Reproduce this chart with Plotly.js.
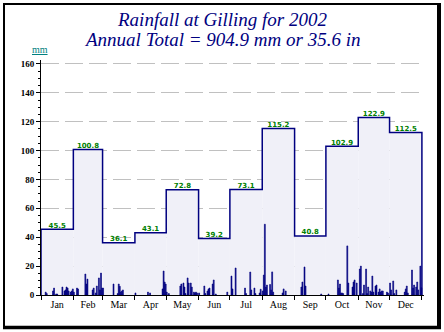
<!DOCTYPE html>
<html>
<head>
<meta charset="utf-8">
<script src="https://cdn.plot.ly/plotly-3.0.1.min.js"></script>
<style>
html,body{margin:0;padding:0;background:#fff;}
#chart{width:444px;height:332px;}
</style>
</head>
<body>
<div id="chart"></div>
<script>
// ---- data ----
const months = ["Jan","Feb","Mar","Apr","May","Jun","Jul","Aug","Sep","Oct","Nov","Dec"];
const monthDays = [31,28,31,30,31,30,31,31,30,31,30,31];
const monthTotals = [45.5,100.8,36.1,43.1,72.8,39.2,73.1,115.2,40.8,102.9,122.9,112.5];
// daily rainfall (day of year, mm)
const rainDay = [5,6,12,13,15,16,21,23,24,25,26,27,29,30,31,
  32,35,36,43,44,45,50,51,53,54,56,57,58,59,
  60,70,74,75,76,77,78,79,
  91,103,105,117,118,119,120,
  121,123,134,135,137,138,139,141,142,144,145,147,148,149,150,
  152,157,158,160,161,162,165,166,168,179,
  183,184,187,196,197,201,202,205,206,210,211,
  213,214,215,216,217,220,221,222,223,232,233,235,
  250,251,253,254,269,
  276,285,286,287,288,289,290,294,295,299,300,301,303,
  306,307,309,310,312,313,314,316,317,318,319,321,322,324,325,326,327,328,332,333,
  335,336,338,339,341,349,350,351,352,356,357,358,360,361,362,364,365];
const rainMm = [2,1,2.8,4.8,0.7,0.7,5.5,2.8,3.5,5.5,4.8,2.8,2,2.8,4.2,
  2,4.8,4.2,14.5,7.6,11,3.5,4.8,1.4,6.2,11.8,3.5,15.2,4.8,
  4.8,7.6,1,7.6,6,2,2.8,3.5,
  1.4,2,1.4,4.2,16.6,9,7.6,
  2,1,6.2,7.6,8.3,5.5,1,11.8,8.3,8.3,5.5,2,1.4,2,1.4,
  1.4,6.2,1,2.8,4.2,4.8,7.6,10.4,0.7,2,
  13.1,4.2,18.7,4.8,1,15.9,3.5,4.8,1,1.4,4,
  2.8,13.8,49,5.5,6.9,7.3,3.5,16,2,1.4,4.2,2.8,
  5.5,9,19.4,6.2,0.7,
  0.7,10.4,4.8,7.6,1.4,1.4,1,34,8.3,5.5,9,10.4,8.3,
  18,20,1,6.9,18,1,5.5,2.8,2,13.1,2,6.2,6.9,2,4.2,2,2.8,2.8,2,1.4,
  8.3,3.5,9.7,1,3.5,2,4.2,6.2,1.4,17.3,4.8,6.9,5.5,9,3.5,20,5];

// ---- derived from data ----
const bounds = [0];
monthDays.forEach(d => bounds.push(bounds[bounds.length-1] + d));
const mids = months.map((m,i) => (bounds[i] + bounds[i+1]) / 2);
const stepX = [0].concat(bounds.slice(0,12), [bounds[12], bounds[12]]);
const stepY = [0].concat(monthTotals, [monthTotals[11], 0]);

// plot area in pixels (for frame shapes)
const L = 41, R = 424, T = 60, B = 295;
const px = v => (v - L) / (R - L);
const py = v => (B - v) / (B - T);

const traces = [
  { // monthly fill
    type: 'bar', x: mids, y: monthTotals, width: monthDays,
    marker: {color: '#f0f0f8', line: {width: 0}}, hoverinfo: 'skip'
  },
  { // daily rainfall
    type: 'bar', x: rainDay.map(d => d - 0.5), y: rainMm, width: 0.9,
    marker: {color: '#000080', line: {width: 0.6, color: '#000080'}}
  },
  { // monthly outline
    type: 'scatter', mode: 'lines', x: stepX, y: stepY,
    line: {shape: 'hv', color: '#000080', width: 1.5}, hoverinfo: 'skip'
  },
  {
    type: 'scatter', mode: 'text', x: mids, y: monthTotals,
    text: monthTotals.map(v => v.toFixed(1)), textposition: 'top center',
    textfont: {family: 'DejaVu Sans', size: 7, color: '#008000', weight: 'bold'},
    cliponaxis: false
  }
];

const frameLine = (x0,y0,x1,y1,w) => ({type:'line', xref:'paper', yref:'paper',
  x0:px(x0), y0:py(y0), x1:px(x1), y1:py(y1), line:{color:'#000', width:w}, layer:'above'});

const layout = {
  width: 444, height: 332,
  margin: {l: L, r: 444 - R, t: T, b: 332 - B, pad: 0},
  paper_bgcolor: '#fff', plot_bgcolor: '#fff',
  showlegend: false,
  barmode: 'overlay',
  font: {family: 'Liberation Serif', size: 9, color: '#000'},
  xaxis: {
    range: [0, 367], showgrid: false, zeroline: false,
    showline: true, linecolor: '#000', linewidth: 1,
    tickmode: 'array', tickvals: mids, ticktext: months,
    ticks: 'outside', ticklen: 0, tickfont: {family: 'Liberation Serif', size: 10, color: '#000'},
    minor: {tickmode: 'array', tickvals: bounds, ticks: 'outside', ticklen: 4, tickcolor: '#000', tickwidth: 1, showgrid: false},
    fixedrange: true
  },
  yaxis: {
    range: [0, 162.7], zeroline: false,
    showline: true, linecolor: '#000', linewidth: 1,
    tickmode: 'linear', tick0: 0, dtick: 20,
    ticks: 'outside', ticklen: 4, tickcolor: '#000',
    tickfont: {family: 'Liberation Serif', size: 9, color: '#000', weight: 'bold'},
    showgrid: true, gridcolor: '#c0c0c0', gridwidth: 1, griddash: '18px,6px',
    minor: {dtick: 5, ticks: 'outside', ticklen: 2, tickcolor: '#000', showgrid: false},
    fixedrange: true
  },
  annotations: [
    {text: 'Rainfall at Gilling for 2002', xref: 'paper', yref: 'paper',
     x: px(222), y: py(20), xanchor: 'center', yanchor: 'middle', showarrow: false,
     font: {family: 'Liberation Serif', size: 19, color: '#000080', style: 'italic'}},
    {text: 'Annual Total = 904.9 mm or 35.6 in', xref: 'paper', yref: 'paper',
     x: px(222), y: py(39), xanchor: 'center', yanchor: 'middle', showarrow: false,
     font: {family: 'Liberation Serif', size: 19, color: '#000080', style: 'italic'}},
    {text: '<u>mm</u>', xref: 'paper', yref: 'paper',
     x: px(40), y: py(49), xanchor: 'center', yanchor: 'middle', showarrow: false,
     font: {family: 'Liberation Serif', size: 10, color: '#008080'}}
  ],
  shapes: [
    frameLine(4, 3, 4, 329, 2),
    frameLine(3, 4, 441, 4, 2),
    frameLine(439, 3, 439, 329, 4),
    frameLine(3, 327.5, 441, 327.5, 3.5)
  ]
};

Plotly.newPlot('chart', traces, layout, {displayModeBar: false, staticPlot: true});
</script>
</body>
</html>
